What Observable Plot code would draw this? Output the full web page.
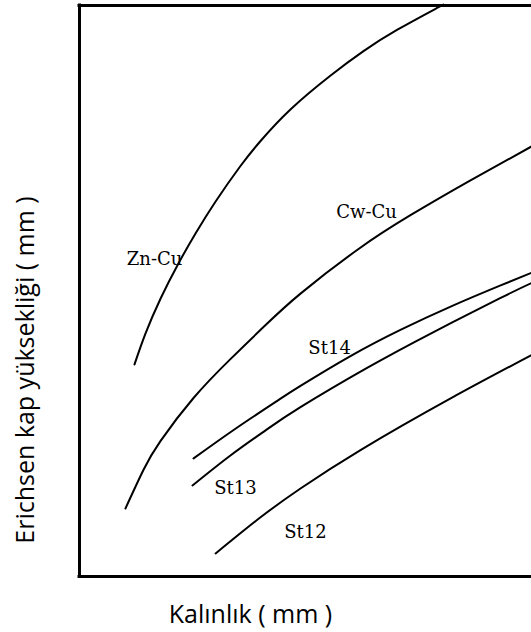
<!DOCTYPE html>
<html>
<head>
<meta charset="utf-8">
<script src="https://cdn.jsdelivr.net/npm/d3@7"></script>
<script src="https://cdn.jsdelivr.net/npm/@observablehq/plot@0.6"></script>
<style>
  html, body { margin: 0; padding: 0; background: #fff; }
</style>
</head>
<body>
<div id="chart"></div>
<script>
// Thickness (mm) and Erichsen cup height (mm)
const znCuX = [0.619, 0.663, 0.723, 0.794, 0.862, 0.942, 1.041, 1.121, 1.240, 1.400, 1.531, 1.666, 1.826, 1.842];
const znCuY = [7.713, 8.256, 8.869, 9.482, 10.007, 10.567, 11.189, 11.627, 12.179, 12.774, 13.201, 13.576, 13.961, 14.0];

const cwCuX = [0.583, 0.655, 0.723, 0.854, 1.001, 1.141, 1.280, 1.507, 1.718, 1.957, 2.2];
const cwCuY = [5.191, 5.869, 6.375, 7.126, 7.807, 8.403, 8.954, 9.723, 10.327, 10.937, 11.531];

const st14X = [0.854, 1.021, 1.189, 1.280, 1.479, 1.678, 1.878, 2.077, 2.2];
const st14Y = [6.067, 6.588, 7.081, 7.338, 7.860, 8.319, 8.727, 9.098, 9.319];

const st13X = [0.850, 1.001, 1.141, 1.280, 1.547, 1.810, 2.077, 2.2];
const st13Y = [5.594, 6.119, 6.560, 6.965, 7.657, 8.280, 8.879, 9.140];

const st12X = [0.942, 1.121, 1.280, 1.519, 1.878, 2.2];
const st12Y = [4.403, 5.037, 5.541, 6.214, 7.119, 7.877];

const seriesNames = ["Zn-Cu", "Cw-Cu", "St14", "St13", "St12"];
const labelX = [0.699, 1.543, 1.396, 1.021, 1.300];
const labelY = [9.552, 10.375, 7.993, 5.541, 4.771];

const xTitle = "Kalınlık ( mm )";
const yTitle = "Erichsen kap yüksekliği ( mm )";

const xDomain = [0.4, 2.2];
const yDomain = [4, 14];

const seriesX = [znCuX, cwCuX, st14X, st13X, st12X];
const seriesY = [znCuY, cwCuY, st14Y, st13Y, st12Y];
const points = seriesNames.flatMap((name, i) =>
  seriesX[i].map((x, j) => ({series: name, x, y: seriesY[i][j]})));
const labels = seriesNames.map((name, i) => ({name, x: labelX[i], y: labelY[i]}));

const chart = Plot.plot({
  width: 531,
  height: 632,
  marginLeft: 79,
  marginRight: 0,
  marginTop: 5,
  marginBottom: 56,
  style: {background: "white", fontFamily: "Open Sans"},
  x: {domain: xDomain, axis: null},
  y: {domain: yDomain, axis: null},
  marks: [
    Plot.ruleY(yDomain, {stroke: "black", strokeWidth: 3, strokeLinecap: "square"}),
    Plot.ruleX([xDomain[0]], {stroke: "black", strokeWidth: 3, strokeLinecap: "square"}),
    Plot.line(points, {x: "x", y: "y", z: "series", curve: "natural", stroke: "black", strokeWidth: 2}),
    Plot.text(labels, {x: "x", y: "y", text: "name", fontFamily: "DejaVu Serif", fontSize: 18, fill: "black"}),
    Plot.text([xTitle], {frameAnchor: "bottom", textAnchor: "middle", lineAnchor: "middle", dx: -55, dy: 38, fontFamily: "Open Sans", fontSize: 25, fill: "black"}),
    Plot.text([yTitle], {frameAnchor: "left", textAnchor: "middle", lineAnchor: "middle", rotate: -90, dx: -54, dy: 79, fontFamily: "Open Sans", fontSize: 25, fill: "black"})
  ]
});
document.getElementById("chart").appendChild(chart);
</script>
</body>
</html>
